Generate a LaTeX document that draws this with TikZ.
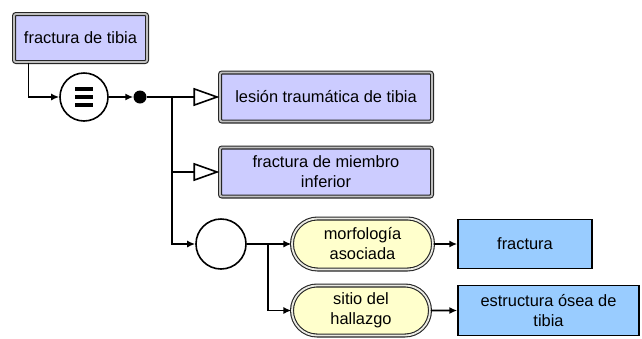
\documentclass[tikz,border=0pt]{standalone}
\usepackage{fontspec}
\setmainfont{Liberation Sans}
\usetikzlibrary{arrows.meta,shapes.misc}
\definecolor{primfill}{RGB}{204,204,255}
\definecolor{attrfill}{RGB}{255,255,204}
\definecolor{valfill}{RGB}{153,204,255}
\tikzset{
  prim/.style={rectangle, rounded corners=2pt, draw=black!85, line width=1.1pt, double=black!25, double distance=1.8pt, fill=primfill, align=center, inner sep=0pt},
  attr/.style={rounded rectangle, draw=black!85, line width=1.1pt, double=attrfill!60!black!20, double distance=1.8pt, fill=attrfill, align=center, inner sep=0pt},
  val/.style={rectangle, draw=black, line width=1.5pt, fill=valfill, align=center, inner sep=0pt},
  arr/.style={line width=1.6pt, -{Latex[length=8pt,width=7pt]}},
  isa/.style={line width=1.6pt, -{Triangle[length=26pt,width=18pt,fill=white]}}
}
\begin{document}
\begin{tikzpicture}[x=1pt,y=-1pt,font=\fontsize{16.4}{20}\selectfont]
\useasboundingbox (0,0) rectangle (642,338);
% concepts
\node[prim, minimum width=133, minimum height=48] (tibia) at (80.5,38) {fractura de tibia};
\node[circle, draw, line width=1.6pt, minimum size=48, inner sep=0pt] (eqv) at (84,97) {};
\foreach \yy in {-8,0,8}
  \draw[line width=3.5pt] ([shift={(-9,\yy)}]eqv.center) -- ++(18,0);
\node[circle, fill, minimum size=13, inner sep=0pt] (dot) at (140,97) {};
\node[prim, minimum width=212, minimum height=49] (lesion) at (326,97) {lesión traumática de tibia};
\node[prim, minimum width=212, minimum height=49] (miembro) at (326,172) {fractura de miembro\\inferior};
% role group
\node[circle, draw, line width=1.6pt, minimum size=50, inner sep=0pt] (grp) at (221,244) {};
\node[attr, minimum width=141, minimum height=51] (morf) at (362.5,244) {morfología\\asociada};
\node[attr, minimum width=138, minimum height=50] (sitio) at (361,310.5) {sitio del\\hallazgo};
\node[val, minimum width=134, minimum height=49] (fract) at (525,244) {fractura};
\node[val, minimum width=181, minimum height=50] (hueso) at (548.5,310.5) {estructura ósea de\\tibia};
\coordinate (split1) at (172,97);
\coordinate (split2) at (268,244);
% connectors
\draw[arr] ([xshift=15pt]tibia.south west) |- (eqv);
\draw[arr] (eqv) -- (dot);
\draw[isa] (dot) -- (lesion);
\draw[isa] (split1) |- (miembro);
\draw[arr] (split1) |- (grp);
\draw[arr] (grp) -- (morf);
\draw[arr] (split2) |- (sitio);
\draw[arr] (morf) -- (fract);
\draw[arr] (sitio) -- (hueso);
\end{tikzpicture}
\end{document}
